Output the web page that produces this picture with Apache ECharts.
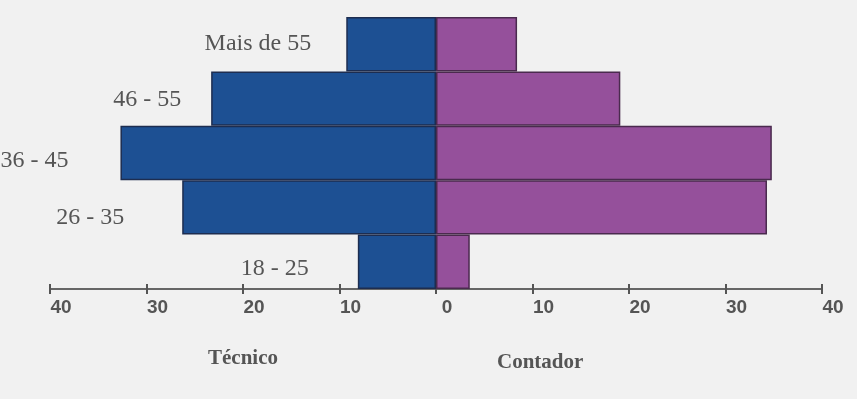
<!DOCTYPE html>
<html>
<head>
<meta charset="utf-8">
<script src="https://cdn.jsdelivr.net/npm/echarts@6/dist/echarts.min.js"></script>
<style>
html, body { margin: 0; padding: 0; background: #f1f1f1; }
#chart { width: 857px; height: 399px; }
</style>
</head>
<body>
<div id="chart"></div>
<script>
// faixas etarias, de baixo para cima
var faixas = ['18 - 25', '26 - 35', '36 - 45', '46 - 55', 'Mais de 55'];
var tecnico = [8.1, 26.3, 32.7, 23.3, 9.3];
var contador = [3.5, 34.3, 34.8, 19.1, 8.4];

// deslocamento dos rotulos (distancia, y)
var rotuloPos = [[49, 7], [58, 10], [52, 8], [30, 1], [35, 0]];

var myChart = echarts.init(document.getElementById('chart'));

var option = {
    backgroundColor: '#f1f1f1',
    animation: false,
    grid: { left: 50, right: 35, top: 17, bottom: 110 },
    xAxis: [{
        type: 'value',
        min: -40,
        max: 40,
        interval: 10,
        splitLine: { show: false },
        axisLine: { show: true, onZero: false, lineStyle: { color: '#666', width: 2 } },
        axisTick: { show: true, length: 5, lineStyle: { color: '#555', width: 2 } },
        axisLabel: {
            margin: 9,
            padding: [0, 0, 0, 22],
            color: '#555',
            fontFamily: 'Liberation Sans',
            fontWeight: 'bold',
            fontSize: 19,
            formatter: function (v) { return Math.abs(v); }
        }
    }, {
        type: 'value',
        position: 'bottom',
        min: -40,
        max: 40,
        interval: 10,
        splitLine: { show: false },
        axisLine: { show: false, onZero: false },
        axisTick: { show: true, inside: true, length: 5, lineStyle: { color: '#555', width: 2 } },
        axisLabel: { show: false }
    }],
    yAxis: {
        type: 'category',
        data: faixas,
        show: false
    },
    series: [{
        name: 'Técnico',
        type: 'bar',
        barCategoryGap: 0,
        barGap: '-100%',
        data: tecnico.map(function (v, i) {
            return {
                value: -v,
                label: { distance: rotuloPos[i][0], offset: [0, rotuloPos[i][1]] }
            };
        }),
        itemStyle: { color: '#1d5093', borderColor: '#1d2d50', borderWidth: 1.5 },
        label: {
            show: true,
            position: 'left',
            color: '#555',
            fontFamily: 'Liberation Serif',
            fontSize: 24,
            formatter: function (p) { return faixas[p.dataIndex]; }
        }
    }, {
        name: 'Contador',
        type: 'bar',
        barCategoryGap: 0,
        barGap: '-100%',
        data: contador,
        itemStyle: { color: '#95509b', borderColor: '#4a2a4e', borderWidth: 1.5 }
    }],
    graphic: [{
        type: 'text',
        left: 208,
        top: 348,
        style: { text: 'Técnico', fill: '#555', font: 'bold 21px "Liberation Serif"' }
    }, {
        type: 'text',
        left: 497,
        top: 352,
        style: { text: 'Contador', fill: '#555', font: 'bold 21px "Liberation Serif"' }
    }]
};

myChart.setOption(option);
</script>
</body>
</html>
